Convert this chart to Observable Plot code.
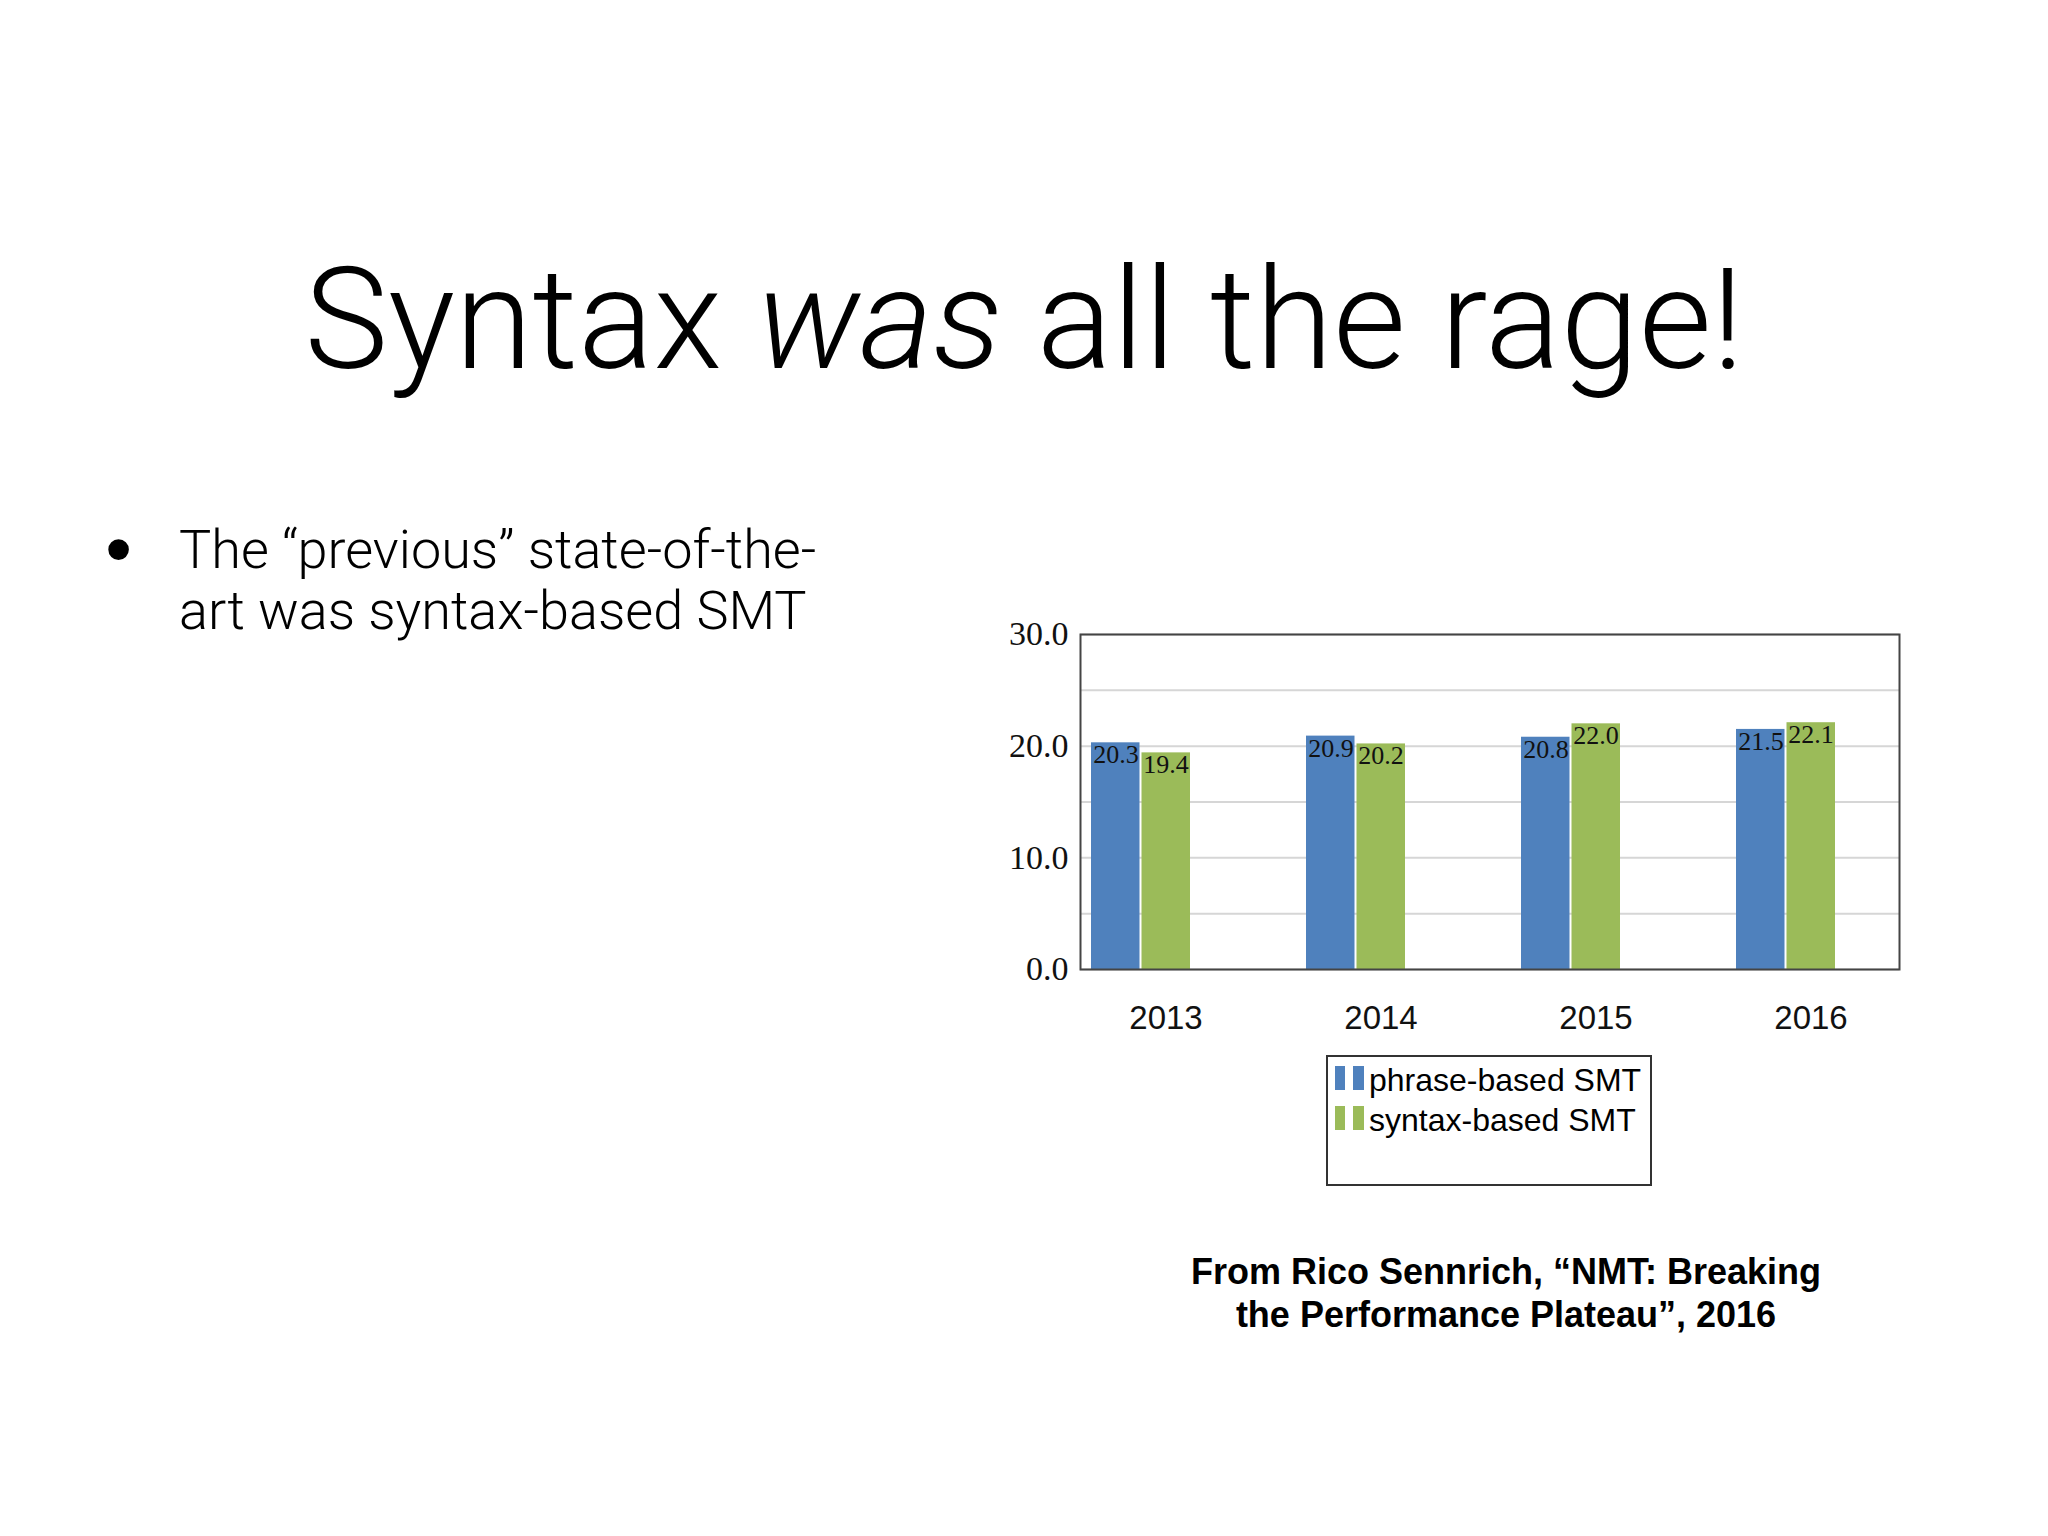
<!DOCTYPE html>
<html>
<head>
<meta charset="utf-8">
<script src="https://cdn.jsdelivr.net/npm/d3@7"></script>
<script src="https://cdn.jsdelivr.net/npm/@observablehq/plot@0.6"></script>
<style>
  body { margin: 0; background: #fff; }
  #page { position: relative; width: 2048px; height: 1536px; background: #fff; overflow: hidden; font-family: Roboto, "Liberation Sans", sans-serif; color: #000; }
  #title { position: absolute; left: 0; width: 2048px; top: 249px; text-align: center; font-size: 141px; line-height: 141px; font-weight: 300; white-space: nowrap; }
  #title i { font-style: italic; }
  #bullet { position: absolute; left: 179px; top: 519px; font-size: 54px; line-height: 61px; font-weight: 300; white-space: nowrap; }
  #dot { position: absolute; left: 106px; top: 512px; font-size: 72px; line-height: 72px; font-weight: 700; font-family: "Liberation Sans", Arial, sans-serif; }
  #chart { position: absolute; left: 960px; top: 580px; }
  #legend { position: absolute; left: 1326px; top: 1055px; width: 322px; height: 127px; border: 2px solid #333; box-sizing: content-box; font-family: "Liberation Sans", Arial, sans-serif; font-size: 32px; }
  .row { position: relative; height: 40px; line-height: 40px; white-space: nowrap; }
  .row:first-child { margin-top: 3px; }
  .sw { position: absolute; top: 6px; height: 24px; }
  .lbl { position: absolute; left: 41px; top: 0; color: #000; }
  #caption { position: absolute; left: 1006px; width: 1000px; top: 1250px; text-align: center; font-family: "Liberation Sans", Arial, sans-serif; font-weight: bold; font-size: 36px; line-height: 43px; }
</style>
</head>
<body>
<div id="page">
  <div id="title">Syntax <i>was</i> all the rage!</div>
  <div id="dot">•</div>
  <div id="bullet">The “previous” state-of-the-<br>art was syntax-based SMT</div>
  <div id="chart"></div>
  <div id="legend"></div>
  <div id="caption">From Rico Sennrich, “NMT: Breaking<br>the Performance Plateau”, 2016</div>
</div>
<script>
// ---- data ----
const years = ["2013", "2014", "2015", "2016"];
const seriesNames = ["phrase-based SMT", "syntax-based SMT"];
const phraseBased = [20.3, 20.9, 20.8, 21.5];
const syntaxBased = [19.4, 20.2, 22.0, 22.1];
const seriesColors = ["#4F81BD", "#9BBB59"];
const yTicks = [0, 10, 20, 30];
const gridTicks = [0, 5, 10, 15, 20, 25, 30];

const table = years.flatMap((yr, i) => [
  {year: yr, series: seriesNames[0], value: phraseBased[i]},
  {year: yr, series: seriesNames[1], value: syntaxBased[i]}
]);
const phraseRows = table.filter(d => d.series === seriesNames[0]);
const syntaxRows = table.filter(d => d.series === seriesNames[1]);

const half = 50.5;   // inset that splits each year band into two bars
const labelShift = 25; // from band centre to bar centre
const serif = "'Liberation Serif', 'DejaVu Serif', serif";

const chart = Plot.plot({
  width: 1000,
  height: 480,
  marginLeft: 120,
  marginRight: 61,
  marginTop: 54,
  marginBottom: 91,
  style: {background: "transparent", overflow: "visible"},
  x: {type: "band", domain: years, range: [130.6, 876.1], paddingInner: 0.5406, paddingOuter: 0, axis: null, label: null},
  y: {domain: [0, 30], axis: null, label: null},
  color: {domain: seriesNames, range: seriesColors},
  marks: [
    Plot.ruleY(gridTicks, {stroke: "#d6d6d6", strokeWidth: 2}),
    Plot.barY(phraseRows, {x: "year", y: "value", fill: "series", insetRight: half}),
    Plot.barY(syntaxRows, {x: "year", y: "value", fill: "series", insetLeft: half}),
    Plot.text(phraseRows, {x: "year", y: "value", text: d => d3.format(".1f")(d.value), dx: -labelShift, dy: 2, lineAnchor: "top", fontFamily: serif, fontSize: 26, fill: "#111"}),
    Plot.text(syntaxRows, {x: "year", y: "value", text: d => d3.format(".1f")(d.value), dx: labelShift, dy: 2, lineAnchor: "top", fontFamily: serif, fontSize: 26, fill: "#111"}),
    Plot.axisY({ticks: yTicks, tickFormat: d3.format(".1f"), tickSize: 0, tickPadding: 12, fontSize: 34, fontFamily: serif, fill: "#111", label: null}),
    Plot.axisX({tickSize: 0, tickPadding: 36, dx: labelShift, fontSize: 33, fontFamily: "'Liberation Sans', Arial, sans-serif", fill: "#111", label: null}),
    Plot.frame({stroke: "#444", strokeWidth: 2})
  ]
});
document.getElementById("chart").appendChild(chart);

// legend built from the same series names and colours
const legend = document.getElementById("legend");
seriesNames.forEach((name, i) => {
  const row = document.createElement("div");
  row.className = "row";
  const s1 = document.createElement("span");
  s1.className = "sw"; s1.style.left = "7px"; s1.style.width = "10px"; s1.style.background = seriesColors[i];
  const s2 = document.createElement("span");
  s2.className = "sw"; s2.style.left = "25px"; s2.style.width = "11px"; s2.style.background = seriesColors[i];
  const t = document.createElement("span");
  t.className = "lbl"; t.textContent = name;
  row.append(s1, s2, t);
  legend.appendChild(row);
});
</script>
</body>
</html>
